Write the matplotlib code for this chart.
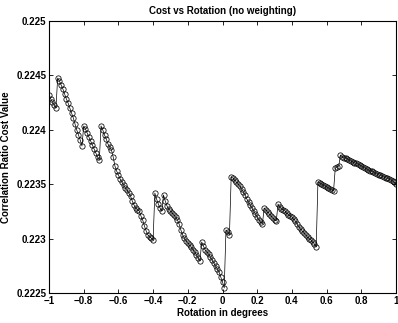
import numpy as np
import matplotlib
matplotlib.use("Agg")
import matplotlib.pyplot as plt

plt.rcParams['font.family'] = ['Liberation Sans', 'DejaVu Sans']

# rotation steps of 0.01 degrees, -1 .. 1
rotation = np.round(np.arange(-100, 101) / 100.0, 2)

# cost
cost = [
    0.224320, 0.224283, 0.224255, 0.224228, 0.224200,
    0.224476, 0.224448, 0.224412, 0.224375, 0.224329,
    0.224283, 0.224246, 0.224200, 0.224154, 0.224108,
    0.224053, 0.223998, 0.223952, 0.223906, 0.223851,
    0.224035, 0.224007, 0.223970, 0.223934, 0.223897,
    0.223860, 0.223823, 0.223787, 0.223750, 0.223722,
    0.224035, 0.223998, 0.223952, 0.223915, 0.223869,
    0.223842, 0.223814, 0.223750, 0.223667, 0.223621,
    0.223584, 0.223548, 0.223520, 0.223493, 0.223465,
    0.223447, 0.223419, 0.223391, 0.223345, 0.223309,
    0.223281, 0.223263, 0.223254, 0.223208, 0.223171,
    0.223116, 0.223070, 0.223033, 0.223015, 0.223005,
    0.222987, 0.223419, 0.223364, 0.223318, 0.223281,
    0.223254, 0.223401, 0.223345, 0.223300, 0.223272,
    0.223254, 0.223235, 0.223217, 0.223198, 0.223171,
    0.223134, 0.223079, 0.223033, 0.223005, 0.222978,
    0.222959, 0.222941, 0.222923, 0.222895, 0.222877,
    0.222849, 0.222822, 0.222794, 0.222969, 0.222932,
    0.222895, 0.222877, 0.222858, 0.222831, 0.222803,
    0.222776, 0.222748, 0.222721, 0.222693, 0.222647,
    0.222601, 0.222546, 0.223079, 0.223061, 0.223033,
    0.223566, 0.223557, 0.223538, 0.223520, 0.223502,
    0.223483, 0.223456, 0.223428, 0.223401, 0.223364,
    0.223336, 0.223309, 0.223281, 0.223254, 0.223226,
    0.223198, 0.223171, 0.223152, 0.223134, 0.223281,
    0.223263, 0.223244, 0.223226, 0.223208, 0.223189,
    0.223171, 0.223162, 0.223318, 0.223290, 0.223272,
    0.223263, 0.223254, 0.223235, 0.223217, 0.223208,
    0.223198, 0.223180, 0.223162, 0.223134, 0.223107,
    0.223088, 0.223070, 0.223051, 0.223033, 0.223015,
    0.222996, 0.222987, 0.222969, 0.222950, 0.222923,
    0.223520, 0.223511, 0.223502, 0.223493, 0.223483,
    0.223474, 0.223465, 0.223456, 0.223447, 0.223437,
    0.223649, 0.223658, 0.223667, 0.223768, 0.223750,
    0.223741, 0.223741, 0.223731, 0.223722, 0.223713,
    0.223704, 0.223695, 0.223695, 0.223686, 0.223676,
    0.223667, 0.223658, 0.223649, 0.223640, 0.223630,
    0.223621, 0.223621, 0.223612, 0.223603, 0.223594,
    0.223584, 0.223584, 0.223575, 0.223566, 0.223557,
    0.223557, 0.223548, 0.223538, 0.223529, 0.223520,
    0.223502,
]

xticks = [-1, -0.8, -0.6, -0.4, -0.2, 0, 0.2, 0.4, 0.6, 0.8, 1]
xtick_labels = ['\u22121', '\u22120.8', '\u22120.6', '\u22120.4', '\u22120.2',
                '0', '0.2', '0.4', '0.6', '0.8', '1']
yticks = [0.2225, 0.223, 0.2235, 0.224, 0.2245, 0.225]
ytick_labels = ['0.2225', '0.223', '0.2235', '0.224', '0.2245', '0.225']

fig = plt.figure(figsize=(3.98, 3.23), dpi=100)
ax = fig.add_axes([49 / 398, 30 / 323, 347 / 398, 272 / 323])

ax.plot(rotation, cost, color='black', linewidth=0.5,
        marker='o', markersize=3.8, markerfacecolor='none',
        markeredgecolor='black', markeredgewidth=0.55)

ax.set_xlim(-1, 1)
ax.set_ylim(0.2225, 0.225)
ax.set_xticks(xticks)
ax.set_xticklabels(xtick_labels)
ax.set_yticks(yticks)
ax.set_yticklabels(ytick_labels)

ax.tick_params(direction='in', top=True, right=True, length=3, width=0.6,
               labelsize=7, pad=2)
for lab in ax.get_xticklabels() + ax.get_yticklabels():
    lab.set_fontweight('bold')
for sp in ax.spines.values():
    sp.set_linewidth(0.8)

ax.set_title("Cost vs Rotation (no weighting)", fontsize=7, fontweight='bold', pad=5)
ax.set_xlabel("Rotation in degrees", fontsize=7, fontweight='bold', labelpad=1.5)
ax.set_ylabel("Correlation Ratio Cost Value", fontsize=7, fontweight='bold', labelpad=4)

fig.savefig("out.png", dpi=100)
